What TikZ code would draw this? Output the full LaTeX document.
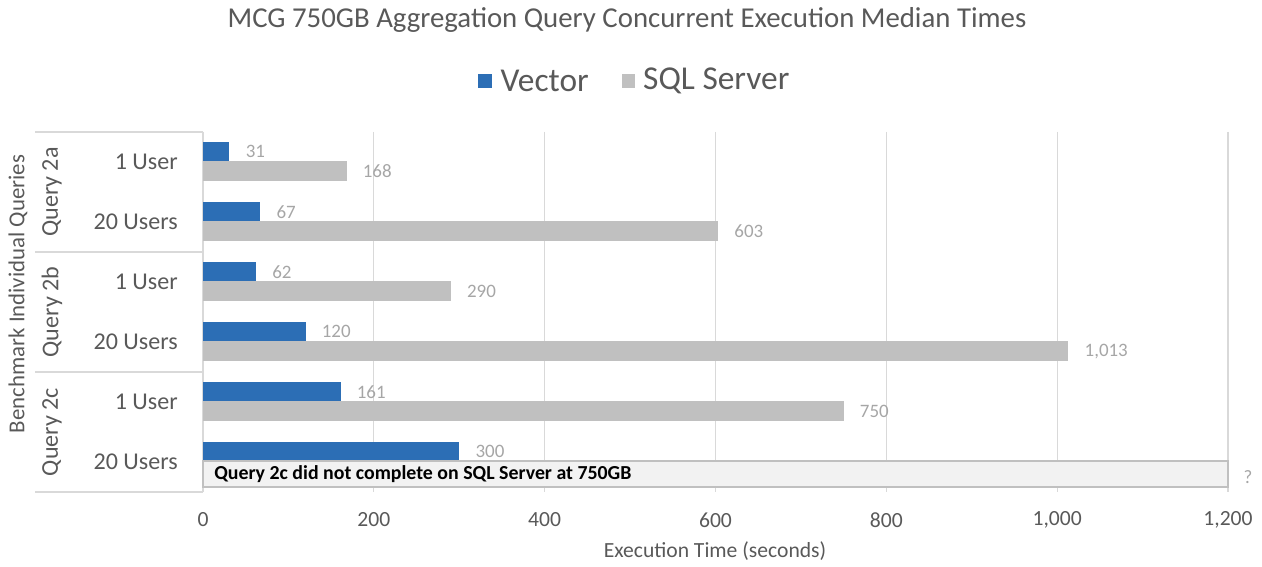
\documentclass[tikz,border=0pt]{standalone}
\usepackage{fontspec}
\setmainfont{Carlito}
\usetikzlibrary{calc,positioning}
\definecolor{vecblue}{HTML}{2C6EB5}
\definecolor{sqlgray}{HTML}{C0C0C0}
\definecolor{gridgray}{HTML}{D9D9D9}
\definecolor{textgray}{HTML}{595959}
\definecolor{valgray}{HTML}{A6A6A6}
\definecolor{boxfill}{HTML}{F2F2F2}
\pgfkeys{
  /chart/.cd,
  origin/.initial=203,
  unit/.initial=0.854167
}
\pgfkeys{/chart/origin/.get=\chartorigin}
\pgfkeys{/chart/unit/.get=\chartunit}

\begin{document}
\begin{tikzpicture}[x=0.02cm,y=-0.02cm,
    grid/.style={draw=gridgray,line width=0.6pt},
    axisline/.style={draw=gridgray,line width=0.8pt},
    ticklab/.style={text=textgray,font=\fontsize{12.3}{14}\selectfont,inner sep=0},
    catlab/.style={text=textgray,font=\fontsize{13.7}{16}\selectfont,inner sep=0},
    vallab/.style={text=valgray,font=\fontsize{10.8}{13}\selectfont,inner sep=0,anchor=west},
    legbox/.style={minimum size=0.28cm,inner sep=0}]
    \useasboundingbox (0,0) rectangle (1262,567);

    \node[text=textgray,font=\fontsize{16.4}{19}\selectfont] (title) at (627,20)
        {MCG 750GB Aggregation Query Concurrent Execution Median Times};

    \node[legbox,fill=vecblue] (lv) at (485,81) {};
    \node[catlab,font=\fontsize{19}{22}\selectfont,right=0.16cm of lv] (lvt) {Vector};
    \node[legbox,fill=sqlgray,right=0.64cm of lvt] (ls) {};
    \node[catlab,font=\fontsize{19}{22}\selectfont,right=0.14cm of ls] (lst) {SQL Server};

    \foreach[count=\i] \t/\lab in {0/0,200/200,400/400,600/600,800/800,1000/{1,000},1200/{1,200}} {
        \coordinate (g\i) at ({\chartorigin+\t*\chartunit},132);
        \draw[grid] (g\i) -- ++(0,360);
        \node[ticklab] (t\i) at ({\chartorigin+\t*\chartunit},520) {\lab};
    }
    \node[ticklab] (xtitle) at (715,551) {Execution Time (seconds)};

    \foreach \y in {132,252,372,492} {
        \draw[axisline] (35,\y) -- (\chartorigin,\y);
    }
    \draw[axisline] (\chartorigin,132) -- (\chartorigin,492);

    \foreach[count=\i] \vec/\sql/\sqltxt/\usr in {31/168/168/1 User,67/603/603/20 Users,
        62/290/290/1 User,120/1013/{1,013}/20 Users,161/750/750/1 User,300/-1/{}/20 Users} {
        \pgfmathsetmacro{\yc}{101.5+60*\i}
        \fill[vecblue] (\chartorigin,{\yc-19.5}) rectangle ({\chartorigin+\vec*\chartunit},\yc);
        \node[vallab] (v\i) at ({\chartorigin+\vec*\chartunit+16},{\yc-9.75}) {\vec};
        \ifnum\sql>0
            \fill[sqlgray] (\chartorigin,\yc) rectangle ({\chartorigin+\sql*\chartunit},{\yc+19.5});
            \node[vallab] (s\i) at ({\chartorigin+\sql*\chartunit+16},{\yc+9.75}) {\sqltxt};
        \fi
        \node[catlab,anchor=east] (c\i) at (178,\yc) {\usr};
    }

    \draw[draw=sqlgray,fill=boxfill,line width=0.8pt] (\chartorigin,461) rectangle (1228,487);
    \node[anchor=west,inner sep=0,font=\bfseries\fontsize{11.3}{13}\selectfont] (dnf) at (214,474)
        {Query 2c did not complete on SQL Server at 750GB};
    \node[vallab,anchor=center] (qmark) at (1248,477) {?};

    \foreach[count=\i] \q in {2a,2b,2c} {
        \node[catlab,rotate=90] (q\i) at (52,{72+120*\i}) {Query \q};
    }
    \node[text=textgray,rotate=90,font=\fontsize{13}{15}\selectfont,inner sep=0] (ytitle) at (18,294)
        {Benchmark Individual Queries};
\end{tikzpicture}
\end{document}
